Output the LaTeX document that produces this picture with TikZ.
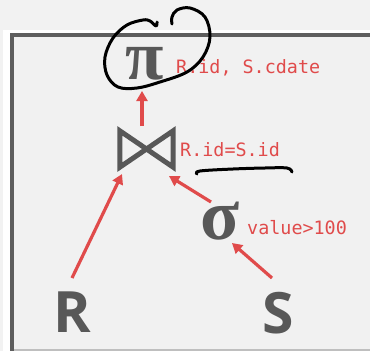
\documentclass[tikz,border=0pt]{standalone}
\usepackage{fontspec}
\usetikzlibrary{arrows.meta}
\newfontfamily\monof{DejaVu Sans Mono}
\newfontfamily\symf{Liberation Serif}
\newfontfamily\letf{Open Sans}
\definecolor{outbg}{HTML}{F2F2F2}
\definecolor{inbg}{HTML}{F1F1F1}
\definecolor{frame}{HTML}{5E5E5E}
\definecolor{redc}{HTML}{E04B4B}
\definecolor{opc}{HTML}{585858}
\tikzset{
  lab/.style={text=redc, font=\monof\fontsize{18.4}{19}\selectfont, inner sep=0, anchor=west},
  opsym/.style={text=opc, inner sep=0},
  arr/.style={draw=redc, line width=3.2pt, -{Triangle[length=10pt,width=11pt]}},
  ink/.style={draw=black, line width=3pt, line cap=round, line join=round},
}
\begin{document}
\begin{tikzpicture}[x=1pt,y=-1pt]
\useasboundingbox (0,0) rectangle (370,351);
\fill[outbg] (0,0) rectangle (370,351);
\fill[white] (3,30) rectangle (372,353);
\fill[inbg] (12,35) rectangle (372,349);
\draw[draw=frame, line width=4pt] (374,35) -- (12,35) -- (12,351);
\draw[draw=black!25, line width=1.5pt] (14,350) -- (372,350);

% operators
\node[opsym, font=\symf\bfseries\fontsize{70}{70}\selectfont] (pi) at (145,64) {π};
\node[lab] (pil) at (176,68) {R.id, S.cdate};
\node[inner sep=0, minimum width=53pt, minimum height=36pt] (join) at (146.5,149) {};
\draw[draw=opc, line width=5pt, line join=miter] (join.north west) -- (join.south west) -- (join.north east) -- (join.south east) -- cycle;
\node[lab] (joinl) at (180,150) {R.id=S.id};
\node[opsym, font=\symf\bfseries\fontsize{72}{72}\selectfont] (sigma) at (220,221) {σ};
\node[lab] (sigmal) at (247,228) {value>100};
\node[opsym, font=\letf\bfseries\fontsize{57}{57}\selectfont] (R) at (72,312) {R};
\node[opsym, font=\letf\bfseries\fontsize{57}{57}\selectfont] (S) at (278,313) {S};

% arrows
\draw[arr] ([xshift=-4.5pt,yshift=23pt]join.center) -- ([xshift=-3pt,yshift=-27pt]pi.center);
\draw[arr] ([yshift=34pt]R.center) -- ([xshift=-24.5pt,yshift=-25pt]join.center);
\draw[arr] ([xshift=-9pt,yshift=19pt]sigma.center) -- ([xshift=22.5pt,yshift=-27pt]join.center);
\draw[arr] ([xshift=-6pt,yshift=35pt]S.center) -- ([xshift=12pt,yshift=-22pt]sigma.center);

% hand-drawn marks
\draw[ink] plot[smooth, tension=0.6] coordinates {(157,22) (156,26) (150,21) (143,20) (127,25) (113,38) (105,57) (107,75) (118,87) (137,88) (160,82) (187,72) (203,57) (210,37) (205,17) (190,8) (177,10) (172,17) (172,24)};
\draw[ink] plot[smooth, tension=0.6] coordinates {(197,174) (200,171) (233,169) (265,168) (287,168) (292,172)};
\end{tikzpicture}
\end{document}
